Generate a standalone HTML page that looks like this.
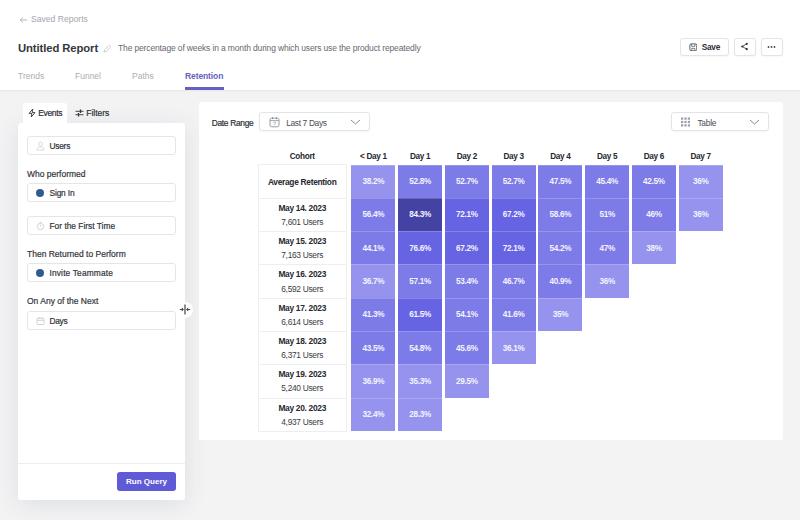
<!DOCTYPE html>
<html><head><meta charset="utf-8">
<style>
*{box-sizing:border-box;margin:0;padding:0}
html,body{width:800px;height:520px;overflow:hidden}
body{background:#f3f3f4;font-family:"Liberation Sans",sans-serif;color:#2d2f36;position:relative}
.abs{position:absolute}
.hdr{left:0;top:0;width:800px;height:90px;background:#fff;box-shadow:0 1px 2px rgba(0,0,0,.06)}
.t{position:absolute;white-space:nowrap;line-height:1}
.btn{position:absolute;border:1px solid #e3e4e8;border-radius:3px;background:#fff;box-shadow:0 1px 2px rgba(0,0,0,.04)}
.inp{position:absolute;left:27px;width:149px;height:19px;border:1px solid #e4e5e9;border-radius:3px;background:#fff}
.inp .t{left:21.5px;top:5px;font-size:8.4px;color:#33353c;-webkit-text-stroke:.2px #33353c}
.lbl{position:absolute;left:27px;font-size:8.5px;color:#33353c;-webkit-text-stroke:.2px #33353c;line-height:1;white-space:nowrap}
.dot{position:absolute;left:8px;top:5px;width:8px;height:8px;border-radius:50%;background:#2f5b8f}
.cell{position:absolute;width:44.2px;height:33.8px;color:#f3f3fd;font-size:8.2px;letter-spacing:-.3px;font-weight:bold;text-align:center;line-height:33px;padding-top:.6px;box-shadow:inset 0 1px 0 rgba(255,255,255,.2)}
.ch{position:absolute;font-size:8.2px;letter-spacing:-.3px;font-weight:bold;color:#26282e;text-align:center;line-height:1;white-space:nowrap}
.co{position:absolute;left:257.6px;width:89.2px;height:33.9px;border:1px solid #edeef0;border-bottom:none;text-align:center}
.co.last{height:34.3px;border-bottom:1px solid #edeef0}
.co b{display:block;font-size:8.4px;letter-spacing:-.3px;color:#26282e;line-height:1;margin-top:5.2px}
.co span{display:block;font-size:8.4px;letter-spacing:-.3px;color:#3a3c43;line-height:1;margin-top:5.7px}
.cell.e{height:33.3px}
.c1{background:rgb(149,147,238)}.c2{background:rgb(125,123,231)}.c3{background:rgb(102,100,226)}.c4{background:rgb(68,66,162)}
.co b.one{margin-top:12.6px}
</style></head><body>
<div class="abs hdr"></div>
<!-- header texts -->
<svg class="abs" style="left:18.5px;top:15.5px" width="9" height="8" viewBox="0 0 9 8"><path d="M8 4H1.5M4 1.4L1.3 4L4 6.6" fill="none" stroke="#adb0b7" stroke-width=".9"/></svg>
<div class="t" style="left:31px;top:15.3px;font-size:8.6px;color:#a3a6ad">Saved Reports</div>
<div class="t" id="title" style="left:18px;top:42.5px;font-size:11.3px;letter-spacing:-.1px;font-weight:bold;color:#36373d">Untitled Report</div>
<svg class="abs" style="left:103px;top:43.5px" width="9" height="9" viewBox="0 0 9 9"><path d="M1 8L1.6 5.8L6.2 1.2L7.8 2.8L3.2 7.4Z" fill="none" stroke="#c6c8cd" stroke-width=".9"/></svg>
<div class="t" id="desc" style="left:118px;top:43.5px;font-size:8.5px;letter-spacing:-.14px;color:#666970">The percentage of weeks in a month during which users use the product repeatedly</div>
<div class="t" style="left:18px;top:71.6px;font-size:8.5px;color:#abaeb4">Trends</div>
<div class="t" style="left:75px;top:71.6px;font-size:8.5px;color:#abaeb4">Funnel</div>
<div class="t" style="left:132px;top:71.6px;font-size:8.5px;color:#abaeb4">Paths</div>
<div class="t" id="ret" style="left:185px;top:71.6px;font-size:8.5px;letter-spacing:-.1px;font-weight:bold;color:#6860be">Retention</div>
<div class="abs" style="left:184.8px;top:87.4px;width:38.8px;height:2.4px;background:#6860be"></div>
<!-- header buttons -->
<div class="btn" style="left:680px;top:38px;width:49px;height:18px"></div>
<svg class="abs" style="left:688.5px;top:42.8px" width="8.6" height="8.6" viewBox="0 0 10 10"><rect x="1" y="1" width="8" height="8" rx="1.6" fill="none" stroke="#575a62" stroke-width="1.1"/><path d="M3 1.2V3.8H7V1.2M3.2 9V6.2H6.8V9" fill="none" stroke="#575a62" stroke-width=".9"/></svg>
<div class="t" style="left:701.8px;top:43.1px;font-size:8.3px;letter-spacing:-.3px;font-weight:bold;color:#2d2f36">Save</div>
<div class="btn" style="left:734px;top:38px;width:22px;height:18px"></div>
<svg class="abs" style="left:740px;top:42.3px" width="9" height="9" viewBox="0 0 10 10"><path d="M7.5 2L2.5 5L7.5 8" fill="none" stroke="#2d2f36" stroke-width=".9"/><circle cx="7.5" cy="2" r="1.2" fill="#2d2f36"/><circle cx="2.5" cy="5" r="1.2" fill="#2d2f36"/><circle cx="7.5" cy="8" r="1.2" fill="#2d2f36"/></svg>
<div class="btn" style="left:760.5px;top:38px;width:22px;height:18px"></div>
<svg class="abs" style="left:766px;top:45px" width="11" height="4" viewBox="0 0 11 4"><circle cx="2.5" cy="2" r=".9" fill="#44464d"/><circle cx="5.5" cy="2" r=".9" fill="#44464d"/><circle cx="8.5" cy="2" r=".9" fill="#44464d"/></svg>

<!-- sidebar -->
<div class="abs" style="left:18px;top:122.5px;width:167px;height:377.5px;background:#fff;border-radius:3px;box-shadow:0 4px 24px rgba(50,60,80,.11)"></div>
<div class="abs" style="left:22.5px;top:103px;width:44.5px;height:22px;background:#fff;border-radius:3px 3px 0 0"></div>
<svg class="abs" style="left:28px;top:108px" width="8" height="10" viewBox="0 0 8 10"><path d="M4.8 1L1 5.4H3.8L3.2 9L7 4.6H4.2Z" fill="none" stroke="#33353c" stroke-width=".9" stroke-linejoin="round"/></svg>
<div class="t" style="left:38.2px;top:109px;font-size:8.5px;letter-spacing:-.33px;-webkit-text-stroke:.2px #2d2f36;color:#2d2f36">Events</div>
<svg class="abs" style="left:75px;top:108px" width="9" height="10" viewBox="0 0 9 10"><path d="M0.5 3.3H8.5M0.5 6.7H8.5" stroke="#33353c" stroke-width=".9"/><path d="M5.5 1.6V5M3.5 5V8.4" stroke="#33353c" stroke-width="1.3"/></svg>
<div class="t" style="left:86.2px;top:109px;font-size:8.5px;-webkit-text-stroke:.2px #2d2f36;color:#2d2f36">Filters</div>

<div class="inp" style="top:136px"><svg class="abs" style="left:8px;top:4px" width="9" height="10" viewBox="0 0 9 10"><circle cx="4.5" cy="3" r="1.9" fill="none" stroke="#d0d2d6" stroke-width=".8"/><path d="M1 9C1 6.6 2.6 5.8 4.5 5.8S8 6.6 8 9Z" fill="none" stroke="#d0d2d6" stroke-width=".8"/></svg><div class="t" style="letter-spacing:-.26px">Users</div></div>
<div class="lbl" style="top:170px">Who performed</div>
<div class="inp" style="top:183px"><div class="dot"></div><div class="t" style="letter-spacing:-.16px">Sign In</div></div>
<div class="inp" style="top:216px"><svg class="abs" style="left:8px;top:4px" width="9" height="10" viewBox="0 0 9 10"><circle cx="4.5" cy="5.5" r="3.2" fill="none" stroke="#c6c8cd" stroke-width=".8"/><path d="M4.5 3.8V5.6M3.5 1.4H5.5" stroke="#c6c8cd" stroke-width=".8"/></svg><div class="t">For the First Time</div></div>
<div class="lbl" style="top:250px">Then Returned to Perform</div>
<div class="inp" style="top:263px"><div class="dot"></div><div class="t" style="letter-spacing:.15px">Invite Teammate</div></div>
<div class="lbl" style="top:297.3px">On Any of the Next</div>
<div class="inp" style="top:310.5px"><svg class="abs" style="left:8px;top:4px" width="9" height="10" viewBox="0 0 9 10"><rect x="1" y="2.2" width="7" height="6.3" rx="1" fill="none" stroke="#c6c8cd" stroke-width=".8"/><path d="M1 4.3H8M3 1.2V3M6 1.2V3" stroke="#c6c8cd" stroke-width=".8"/></svg><div class="t" style="letter-spacing:-.3px">Days</div></div>
<div class="abs" style="left:18px;top:463px;width:167px;height:1px;background:#ecedef"></div>
<div class="abs" style="left:117px;top:472px;width:59px;height:19px;background:#5f5ad6;border-radius:3px"></div>
<div class="t" style="left:117px;width:59px;text-align:center;top:477.5px;font-size:8.05px;font-weight:bold;color:#fff">Run Query</div>
<!-- resize handle -->
<div class="abs" style="left:177px;top:302px;width:16px;height:16px;border-radius:50%;background:#fff"></div>
<svg class="abs" style="left:179px;top:304px" width="12" height="11" viewBox="0 0 12 11"><path d="M6 0.5V10.5" stroke="#2d2f36" stroke-width="1.1"/><path d="M0.8 5.5H3.5M8.5 5.5H11.2" stroke="#3a3c43" stroke-width=".9"/><path d="M2.8 3.6L4.9 5.5L2.8 7.4ZM9.2 3.6L7.1 5.5L9.2 7.4Z" fill="#3a3c43"/></svg>

<!-- main panel -->
<div class="abs" style="left:198.5px;top:102px;width:584px;height:338px;background:#fff;border-radius:2px"></div>
<div class="t" style="left:211.7px;top:118.5px;font-size:8.4px;letter-spacing:-.3px;-webkit-text-stroke:.2px #2d2f36;color:#2d2f36">Date Range</div>
<div class="btn" style="left:259.3px;top:112.3px;width:110.7px;height:19.2px"></div>
<svg class="abs" style="left:269px;top:116px" width="11" height="12" viewBox="0 0 11 12"><rect x="1" y="2.2" width="9" height="8.6" rx="1.6" fill="none" stroke="#8e9199" stroke-width=".9"/><path d="M3.5 1V3.2M7.5 1V3.2" stroke="#8e9199" stroke-width=".9"/><path d="M1 4.6H10" stroke="#8e9199" stroke-width=".8"/><path d="M4.2 6.2H6.8L5.4 9.2" fill="none" stroke="#a5a8af" stroke-width=".7"/></svg>
<div class="t" style="left:286.2px;top:118.5px;font-size:8.4px;letter-spacing:-.35px;color:#4a4d55">Last 7 Days</div>
<svg class="abs" style="left:350px;top:119px" width="11" height="6" viewBox="0 0 11 6"><path d="M1 1L5.5 5L10 1" fill="none" stroke="#7a7d85" stroke-width=".9"/></svg>
<div class="btn" style="left:670.5px;top:112.3px;width:98px;height:19.2px"></div>
<svg class="abs" style="left:680px;top:116px" width="11" height="12" viewBox="0 0 11 12"><g fill="#9a9da5"><rect x="1" y="1.5" width="2.2" height="2.2"/><rect x="4.4" y="1.5" width="2.2" height="2.2"/><rect x="7.8" y="1.5" width="2.2" height="2.2"/><rect x="1" y="4.9" width="2.2" height="2.2"/><rect x="4.4" y="4.9" width="2.2" height="2.2"/><rect x="7.8" y="4.9" width="2.2" height="2.2"/><rect x="1" y="8.3" width="2.2" height="2.2"/><rect x="4.4" y="8.3" width="2.2" height="2.2"/><rect x="7.8" y="8.3" width="2.2" height="2.2"/></g></svg>
<div class="t" style="left:697.4px;top:118.5px;font-size:8.4px;letter-spacing:-.25px;color:#4a4d55">Table</div>
<svg class="abs" style="left:749px;top:119px" width="11" height="6" viewBox="0 0 11 6"><path d="M1 1L5.5 5L10 1" fill="none" stroke="#7a7d85" stroke-width=".9"/></svg>
<!--TBL-->
<div class="ch" style="left:257.6px;width:89.2px;top:152.5px">Cohort</div>
<div class="ch" style="left:351.30px;width:44.2px;top:152.5px">&lt; Day 1</div>
<div class="ch" style="left:398.05px;width:44.2px;top:152.5px">Day 1</div>
<div class="ch" style="left:444.80px;width:44.2px;top:152.5px">Day 2</div>
<div class="ch" style="left:491.55px;width:44.2px;top:152.5px">Day 3</div>
<div class="ch" style="left:538.30px;width:44.2px;top:152.5px">Day 4</div>
<div class="ch" style="left:585.05px;width:44.2px;top:152.5px">Day 5</div>
<div class="ch" style="left:631.80px;width:44.2px;top:152.5px">Day 6</div>
<div class="ch" style="left:678.55px;width:44.2px;top:152.5px">Day 7</div>
<div class="co" style="top:164.4px"><b class="one">Average Retention</b></div>
<div class="cell c1" style="left:351.30px;top:164.5px">38.2%</div>
<div class="cell c2" style="left:398.05px;top:164.5px">52.8%</div>
<div class="cell c2" style="left:444.80px;top:164.5px">52.7%</div>
<div class="cell c2" style="left:491.55px;top:164.5px">52.7%</div>
<div class="cell c2" style="left:538.30px;top:164.5px">47.5%</div>
<div class="cell c2" style="left:585.05px;top:164.5px">45.4%</div>
<div class="cell c2" style="left:631.80px;top:164.5px">42.5%</div>
<div class="cell c1" style="left:678.55px;top:164.5px">36%</div>
<div class="co" style="top:197.7px"><b>May 14. 2023</b><span>7,601 Users</span></div>
<div class="cell c2" style="left:351.30px;top:197.8px">56.4%</div>
<div class="cell c4" style="left:398.05px;top:197.8px">84.3%</div>
<div class="cell c3" style="left:444.80px;top:197.8px">72.1%</div>
<div class="cell c3" style="left:491.55px;top:197.8px">67.2%</div>
<div class="cell c2" style="left:538.30px;top:197.8px">58.6%</div>
<div class="cell c2" style="left:585.05px;top:197.8px">51%</div>
<div class="cell c2" style="left:631.80px;top:197.8px">46%</div>
<div class="cell c1 e" style="left:678.55px;top:197.8px">36%</div>
<div class="co" style="top:231.0px"><b>May 15. 2023</b><span>7,163 Users</span></div>
<div class="cell c2" style="left:351.30px;top:231.1px">44.1%</div>
<div class="cell c3" style="left:398.05px;top:231.1px">76.6%</div>
<div class="cell c3" style="left:444.80px;top:231.1px">67.2%</div>
<div class="cell c3" style="left:491.55px;top:231.1px">72.1%</div>
<div class="cell c2" style="left:538.30px;top:231.1px">54.2%</div>
<div class="cell c2" style="left:585.05px;top:231.1px">47%</div>
<div class="cell c1 e" style="left:631.80px;top:231.1px">38%</div>
<div class="co" style="top:264.3px"><b>May 16. 2023</b><span>6,592 Users</span></div>
<div class="cell c1" style="left:351.30px;top:264.4px">36.7%</div>
<div class="cell c2" style="left:398.05px;top:264.4px">57.1%</div>
<div class="cell c2" style="left:444.80px;top:264.4px">53.4%</div>
<div class="cell c2" style="left:491.55px;top:264.4px">46.7%</div>
<div class="cell c2" style="left:538.30px;top:264.4px">40.9%</div>
<div class="cell c1 e" style="left:585.05px;top:264.4px">36%</div>
<div class="co" style="top:297.6px"><b>May 17. 2023</b><span>6,614 Users</span></div>
<div class="cell c2" style="left:351.30px;top:297.7px">41.3%</div>
<div class="cell c3" style="left:398.05px;top:297.7px">61.5%</div>
<div class="cell c2" style="left:444.80px;top:297.7px">54.1%</div>
<div class="cell c2" style="left:491.55px;top:297.7px">41.6%</div>
<div class="cell c1 e" style="left:538.30px;top:297.7px">35%</div>
<div class="co" style="top:330.9px"><b>May 18. 2023</b><span>6,371 Users</span></div>
<div class="cell c2" style="left:351.30px;top:331.0px">43.5%</div>
<div class="cell c2" style="left:398.05px;top:331.0px">54.8%</div>
<div class="cell c2" style="left:444.80px;top:331.0px">45.6%</div>
<div class="cell c1 e" style="left:491.55px;top:331.0px">36.1%</div>
<div class="co" style="top:364.2px"><b>May 19. 2023</b><span>5,240 Users</span></div>
<div class="cell c1" style="left:351.30px;top:364.3px">36.9%</div>
<div class="cell c1" style="left:398.05px;top:364.3px">35.3%</div>
<div class="cell c1 e" style="left:444.80px;top:364.3px">29.5%</div>
<div class="co last" style="top:397.5px"><b>May 20. 2023</b><span>4,937 Users</span></div>
<div class="cell c1 e" style="left:351.30px;top:397.6px">32.4%</div>
<div class="cell c1 e" style="left:398.05px;top:397.6px">28.3%</div>
<!--/TBL-->
</body></html>
